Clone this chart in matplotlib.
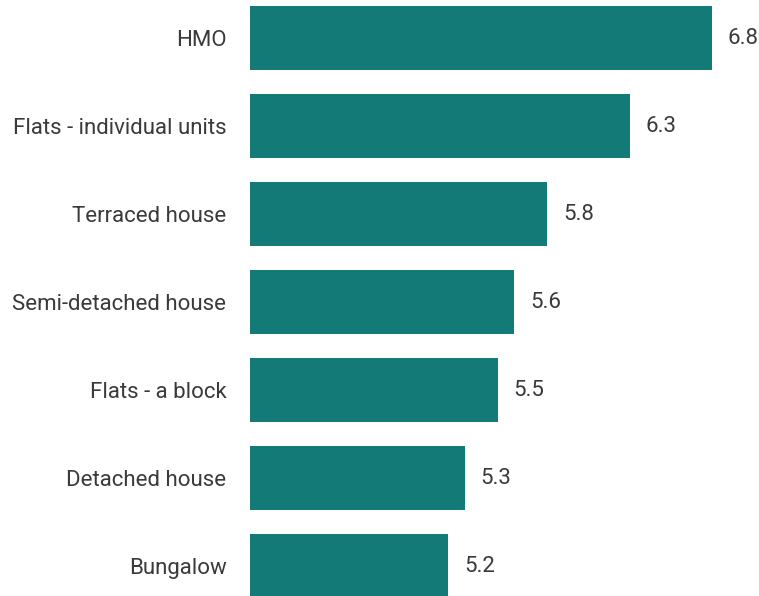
import matplotlib
matplotlib.use("Agg")
import matplotlib.pyplot as plt

categories = ["HMO", "Flats - individual units", "Terraced house",
              "Semi-detached house", "Flats - a block", "Detached house", "Bungalow"]
values = [6.8, 6.3, 5.8, 5.6, 5.5, 5.3, 5.2]

plt.rcParams['font.family'] = ['Roboto', 'DejaVu Sans']

fig = plt.figure(figsize=(7.59, 5.96), dpi=100)
ax = fig.add_axes([250 / 759, 0, 509 / 759, 1])

base = 4.0
pos = list(range(len(categories)))
ax.barh(pos, [v - base for v in values], left=base, height=0.727, color="#147a77")

for p, v in zip(pos, values):
    ax.annotate(f"{v:.1f}", (v, p), xytext=(11.5, 0), textcoords="offset points",
                va="center", ha="left", fontsize=16, color="#3a3a3a")

ax.set_xlim(base, base + 509 / 165)
ax.set_ylim(6 + 30 / 88, -38 / 88)
ax.set_yticks(pos)
ax.set_yticklabels(categories, fontsize=16, color="#3a3a3a")
ax.tick_params(axis="y", length=0, pad=17)
ax.set_xticks([])
for s in ax.spines.values():
    s.set_visible(False)

fig.savefig("out.png", dpi=100)
